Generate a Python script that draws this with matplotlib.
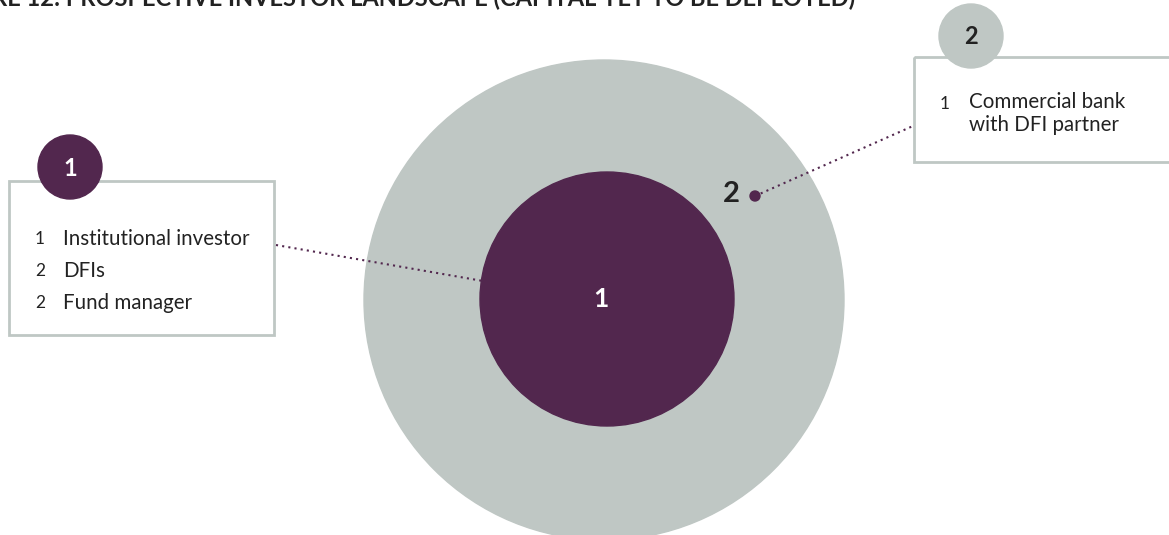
import matplotlib.pyplot as plt
from matplotlib.patches import Circle, Rectangle

# data
title = "FIGURE 12: PROSPECTIVE INVESTOR LANDSCAPE (CAPITAL YET TO BE DEPLOYED)"
ring_labels = ["1", "2"]
group1_counts = ["1", "2", "2"]
group1_names = ["Institutional investor", "DFIs", "Fund manager"]
group2_counts = ["1"]
group2_names = ["Commercial bank\nwith DFI partner"]

purple = "#52274e"
grey = "#bfc7c4"
dark = "#222222"

plt.rcParams["font.family"] = ["Lato", "DejaVu Sans"]

fig = plt.figure(figsize=(11.69, 5.35), dpi=100)
ax = fig.add_axes([0, 0, 1, 1])
ax.set_xlim(0, 1169)
ax.set_ylim(535, 0)
ax.set_aspect("equal")
ax.axis("off")

# title, cut off at the top edge as in the source page
ax.text(855, 6, title, fontsize=17, fontweight="bold", color=dark,
        va="baseline", ha="right")

# concentric circles
ax.add_patch(Circle((604, 300), 240, color=grey, zorder=1))
ax.add_patch(Circle((607, 299), 127, color=purple, zorder=2))
ax.text(601, 299, ring_labels[0], fontsize=19, fontweight="bold", color="white",
        ha="center", va="center", zorder=3)
ax.text(731, 194, ring_labels[1], fontsize=21, fontweight="bold", color=dark,
        ha="center", va="center", zorder=3)
ax.add_patch(Circle((755, 196), 5, color=purple, zorder=4))

# leader lines
ax.plot([276, 483], [245, 281], color=purple, lw=1.5, ls=(0, (1, 2)), zorder=3)
ax.plot([755, 913], [196, 126], color=purple, lw=1.5, ls=(0, (1, 2)), zorder=3)

# left box
ax.add_patch(Rectangle((9, 181), 265, 154, fill=False, ec=grey, lw=2, zorder=2))
ax.add_patch(Circle((70, 167), 32, color=purple, zorder=3))
ax.text(70, 168, ring_labels[0], fontsize=17, fontweight="bold", color="white",
        ha="center", va="center", zorder=4)
for i, (c, n) in enumerate(zip(group1_counts, group1_names)):
    y = 239 + i * 32
    ax.text(35, y, c, fontsize=12.5, color=dark, ha="left", va="center")
    ax.text(63, y, n, fontsize=14.8, color=dark, ha="left", va="center")

# right box
ax.add_patch(Rectangle((914, 57), 262, 105, fill=False, ec=grey, lw=2, zorder=2))
ax.add_patch(Circle((971, 36), 32, color=grey, zorder=3))
ax.text(971, 37, ring_labels[1], fontsize=17, fontweight="bold", color=dark,
        ha="center", va="center", zorder=4)
for c, n in zip(group2_counts, group2_names):
    ax.text(940, 104, c, fontsize=12.5, color=dark, ha="left", va="center")
    ax.text(969, 92, n, fontsize=14.8, color=dark, ha="left", va="top",
            linespacing=1.2)

fig.savefig("out.png", dpi=100)
